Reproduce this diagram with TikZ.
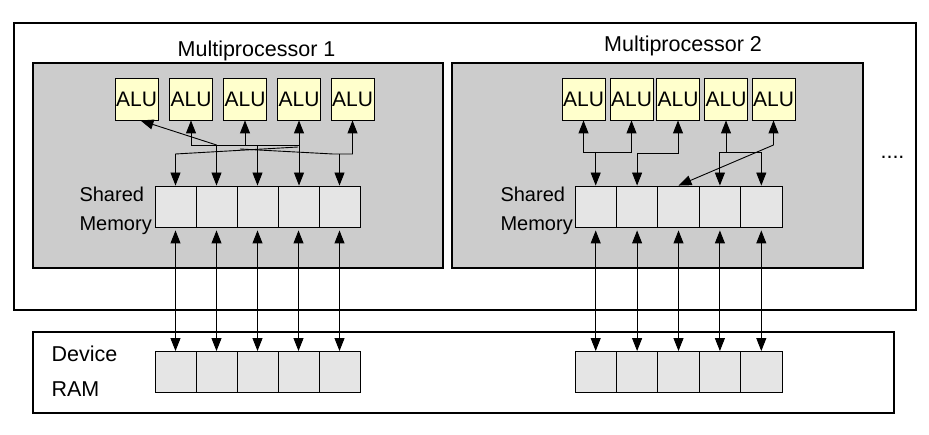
\documentclass[tikz,border=0pt]{standalone}
\usepackage{fontspec}
\setmainfont{Liberation Sans}
\usetikzlibrary{arrows.meta}

\definecolor{mpgray}{HTML}{CCCCCC}
\definecolor{cellgray}{HTML}{E5E5E5}
\definecolor{aluyellow}{HTML}{FFFFCC}

\tikzset{
  alubox/.style={draw, fill=aluyellow, line width=0.9pt, minimum width=43pt, minimum height=42pt,
    inner sep=0pt, font=\fontsize{21}{24}\selectfont},
  cellbox/.style={draw, fill=cellgray, line width=0.9pt, minimum width=41pt, minimum height=41pt, inner sep=0pt},
  label/.style={font=\fontsize{21.5}{25}\selectfont, anchor=base},
  link/.style={line width=0.9pt},
  >={Triangle[length=13pt,width=10pt]}
}

\begin{document}
\begin{tikzpicture}[x=1pt, y=-1pt]
  \useasboundingbox (0,0) rectangle (929,435);
  % frames
  \draw[line width=1.4pt] (14,23) rectangle (916,310);
  \filldraw[fill=mpgray, line width=1.4pt] (33,63) rectangle (443,268);
  \filldraw[fill=mpgray, line width=1.4pt] (452,63) rectangle (863,268);
  \draw[line width=1.4pt] (33,332) rectangle (894,413);

  \node[label] (title1) at (256.5,56.5) {Multiprocessor 1};
  \node[label] (title2) at (683,51.5) {Multiprocessor 2};
  \node[label, font=\fontsize{20}{23}\selectfont, anchor=base west] (shared1) at (76,202) {Shared};
  \node[label, font=\fontsize{20}{23}\selectfont, anchor=base west] (memory1) at (76,231) {Memory};
  \node[label, font=\fontsize{20}{23}\selectfont, anchor=base west] (shared2) at (497,202) {Shared};
  \node[label, font=\fontsize{20}{23}\selectfont, anchor=base west] (memory2) at (497,231) {Memory};
  \node[label, anchor=base west] (device) at (48,362) {Device};
  \node[label, anchor=base west] (ram) at (48,397) {RAM};
  \node[label, anchor=base] (dots) at (892.5,159) {....};

  % ALUs
  \foreach \x [count=\i] in {136.5,191,245,299,352.5}
    \node[alubox] (alu1-\i) at (\x,99) {ALU};
  \foreach \x [count=\i] in {583.5,631.5,678,726,773.5}
    \node[alubox] (alu2-\i) at (\x,99) {ALU};

  % shared memory and device RAM cells
  \foreach \i in {1,...,5} {
    \node[cellbox] (sm1-\i) at ({175.5+41*(\i-1)},206.5) {};
    \node[cellbox] (ram1-\i) at ({175.5+41*(\i-1)},372) {};
    \node[cellbox, minimum width=41.4pt] (sm2-\i) at ({595.7+41.4*(\i-1)},206.5) {};
    \node[cellbox, minimum width=41.4pt] (ram2-\i) at ({595.7+41.4*(\i-1)},372) {};
  }

  % shared memory <-> device RAM
  \foreach \i in {1,...,5} {
    \draw[link, <->] ([yshift=-3pt]sm1-\i.south) -- (ram1-\i.north);
    \draw[link, <->] ([yshift=-3pt]sm2-\i.south) -- (ram2-\i.north);
  }

  % multiprocessor 1: ALU <-> shared memory
  \coordinate (h1) at (0,145);
  \coordinate (k1) at (298,147);
  \coordinate (k2) at (176,154);
  \coordinate (k3) at (240,149);
  \coordinate (k4) at (333,154);
  \draw[link, <->] ([xshift=4pt]alu1-1.south) -- (sm1-2.north |- h1) -- (sm1-2.north);
  \draw[link, <-] (alu1-2.south) -- (alu1-2.south |- h1) -- (alu1-4.south |- h1);
  \draw[link, <->] (alu1-3.south) -- (alu1-3.south |- h1) -- (sm1-3.north |- h1) -- (sm1-3.north);
  \draw[link, <->] (alu1-4.south) -- (alu1-4.south |- sm1-4.north);
  \draw[link, ->] (k1) -- (sm1-1.north |- k2) -- (sm1-1.north);
  \draw[link, <-] (alu1-5.south) -- (alu1-5.south |- k4) -- (k4) -- (k3);
  \draw[link, ->] (sm1-5.north |- k4) -- (sm1-5.north);

  % multiprocessor 2: ALU <-> shared memory
  \coordinate (h2) at (0,152);
  \coordinate (h3) at (0,153.5);
  \coordinate (h4) at (0,145);
  \draw[link, <->] (alu2-1.south) -- (alu2-1.south |- h2) -- (alu2-2.south |- h2) -- (alu2-2.south);
  \draw[link, ->] (sm2-1.north |- h2) -- (sm2-1.north);
  \draw[link, <->] (alu2-3.south) -- (alu2-3.south |- h3) -- (sm2-2.north |- h3) -- (sm2-2.north);
  \draw[link, <-] (alu2-4.south) -- (alu2-4.south |- h2);
  \draw[link, <->] (sm2-4.north) -- (sm2-4.north |- h2) -- (sm2-5.north |- h2) -- (sm2-5.north);
  \draw[link, <->] (alu2-5.south) -- (alu2-5.south |- h4) -- (sm2-3.north);
\end{tikzpicture}
\end{document}
